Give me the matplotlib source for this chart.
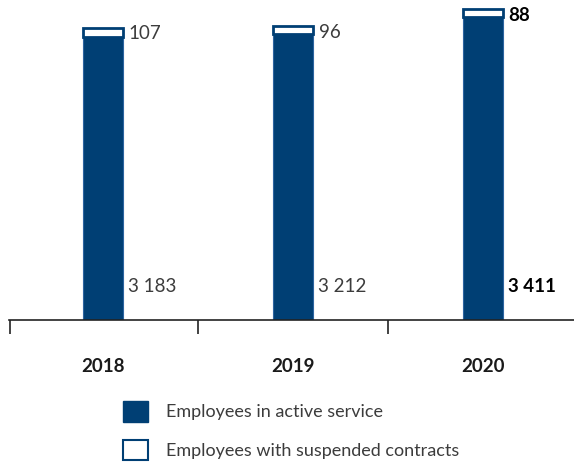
import matplotlib.pyplot as plt
from matplotlib.patches import Patch

plt.rcParams['font.family'] = ['Lato', 'DejaVu Sans']

years = ["2018", "2019", "2020"]
active = [3183, 3212, 3411]
suspended = [107, 96, 88]
active_labels = ["3 183", "3 212", "3 411"]
suspended_labels = ["107", "96", "88"]

navy = "#003f74"
edge = "#2d64a0"
text_grey = "#3c3c3c"

fig = plt.figure(figsize=(5.74, 4.65), dpi=100)
ax = fig.add_axes([9 / 574, 145 / 465, 565 / 574, 320 / 465])

x = list(range(len(years)))
w = 0.21
ax.bar(x, active, width=w, color=navy, edgecolor=edge, linewidth=0.8)
ax.bar(x, suspended, width=w, bottom=active, color="white",
       edgecolor=navy, linewidth=2)

for i in x:
    bold = i == len(years) - 1
    weight = "bold" if bold else "normal"
    color = "black" if bold else text_grey
    ax.text(i + w / 2 + 0.025, 380, active_labels[i], fontsize=13.5,
            fontweight=weight, color=color, ha="left", va="center")
    ax.text(i + w / 2 + 0.03, active[i] + suspended[i] - 70, suspended_labels[i],
            fontsize=13.5, fontweight=weight, color=color, ha="left", va="center")

ax.set_xlim(-0.495, 2.479)
ax.set_ylim(0, 3600)
for s in ["top", "right", "left"]:
    ax.spines[s].set_visible(False)
ax.spines["bottom"].set_color("#222222")
ax.spines["bottom"].set_linewidth(1.2)
ax.set_yticks([])
ax.set_xticks([-0.49, 0.5, 1.5])
ax.set_xticklabels([])
ax.tick_params(axis="x", length=10, width=1.2, color="#222222")
for i, yr in enumerate(years):
    ax.text(i, -0.145, yr, transform=ax.get_xaxis_transform(), ha="center",
            va="center", fontsize=13.5, fontweight="bold", color="#1a1a1a")

handles = [Patch(facecolor=navy, edgecolor=navy),
           Patch(facecolor="white", edgecolor=navy, linewidth=1.5)]
fig.legend(handles, ["Employees in active service",
                     "Employees with suspended contracts"],
           loc="upper left", bbox_to_anchor=(107 / 574, 1 - 385 / 465),
           frameon=False, fontsize=13, handlelength=1.35, handleheight=1.35,
           handletextpad=1.0, labelspacing=1.0, labelcolor=text_grey)

fig.savefig("out.png", dpi=100)
